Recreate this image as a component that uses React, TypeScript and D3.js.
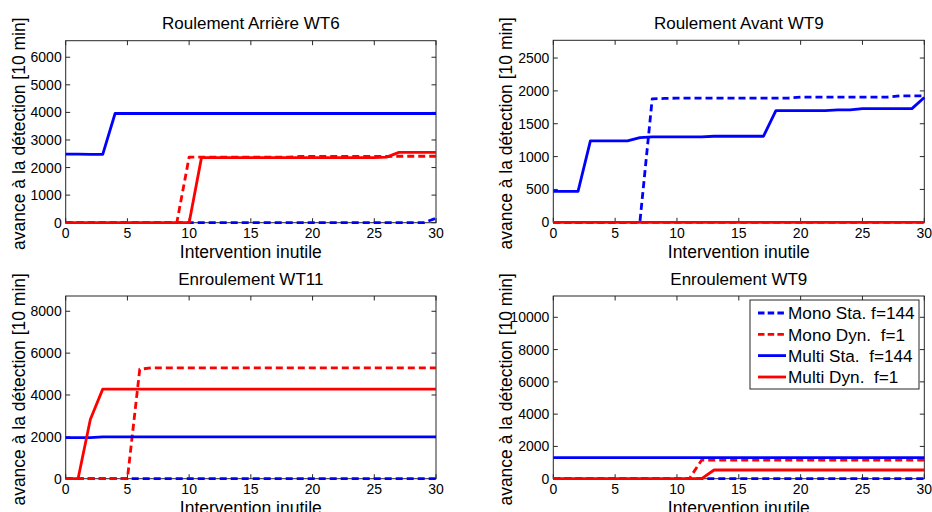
import React from 'react';
import * as d3 from 'd3';

const xValues = [0,1,2,3,4,5,6,7,8,9,10,11,12,13,14,15,16,17,18,19,20,21,22,23,24,25,26,27,28,29,30];

const seriesNames = ['Mono Sta. f=144', 'Mono Dyn.  f=1', 'Multi Sta.  f=144', 'Multi Dyn.  f=1'];
const seriesColors = ['#0000ff', '#ff0000', '#0000ff', '#ff0000'];
const seriesDashed = [true, true, false, false];

const titles = ['Roulement Arrière WT6', 'Roulement Avant WT9', 'Enroulement WT11', 'Enroulement WT9'];
const yMaxes = [6600, 2770, 8730, 11320];
const yTickSets = [
  [0, 1000, 2000, 3000, 4000, 5000, 6000],
  [0, 500, 1000, 1500, 2000, 2500],
  [0, 2000, 4000, 6000, 8000],
  [0, 2000, 4000, 6000, 8000, 10000],
];
const xTicks = [0, 5, 10, 15, 20, 25, 30];
const xLabel = 'Intervention inutile';
const yLabel = 'avance à la détection [10 min]';

// Roulement Arrière WT6
const monoSta1 = [0,0,0,0,0,0,0,0,0,0,0,0,0,0,0,0,0,0,0,0,0,0,0,0,0,0,0,0,0,0,160];
const monoDyn1 = [0,0,0,0,0,0,0,0,0,0,2380,2380,2380,2380,2380,2380,2380,2380,2380,2400,2400,2400,2400,2400,2400,2400,2400,2410,2410,2410,2410];
const multiSta1 = [2490,2490,2480,2480,3960,3960,3960,3960,3960,3960,3960,3960,3960,3960,3960,3960,3960,3960,3960,3960,3960,3960,3960,3960,3960,3960,3960,3960,3960,3960,3960];
const multiDyn1 = [0,0,0,0,0,0,0,0,0,0,0,2360,2360,2360,2360,2360,2360,2360,2360,2360,2360,2360,2360,2360,2360,2360,2380,2550,2550,2550,2550];

// Roulement Avant WT9
const monoSta2 = [0,0,0,0,0,0,0,0,1880,1885,1890,1890,1890,1890,1890,1890,1890,1890,1890,1890,1905,1905,1905,1905,1905,1905,1905,1905,1925,1925,1925];
const monoDyn2 = [0,0,0,0,0,0,0,0,0,0,0,0,0,0,0,0,0,0,0,0,0,0,0,0,0,0,0,0,0,0,0];
const multiSta2 = [470,470,470,1240,1240,1240,1240,1290,1300,1300,1300,1300,1300,1310,1310,1310,1310,1310,1700,1700,1700,1700,1700,1710,1710,1730,1730,1730,1730,1730,1900];
const multiDyn2 = [0,0,0,0,0,0,0,0,0,0,0,0,0,0,0,0,0,0,0,0,0,0,0,0,0,0,0,0,0,0,0];

// Enroulement WT11
const monoSta3 = [0,0,0,0,0,0,0,0,0,0,0,0,0,0,0,0,0,0,0,0,0,0,0,0,0,0,0,0,0,0,0];
const monoDyn3 = [0,0,0,0,0,0,5230,5300,5300,5300,5300,5300,5300,5300,5300,5300,5300,5300,5300,5300,5300,5300,5300,5300,5300,5300,5300,5300,5300,5300,5300];
const multiSta3 = [1960,1960,1960,2000,2000,2000,2000,2000,2000,2000,2000,2000,2000,2000,2000,2000,2000,2000,2000,2000,2000,2000,2000,2000,2000,2000,2000,2000,2000,2000,2000];
const multiDyn3 = [0,0,2840,4280,4280,4280,4280,4280,4280,4280,4280,4280,4280,4280,4280,4280,4280,4280,4280,4280,4280,4280,4280,4280,4280,4280,4280,4280,4280,4280,4280];

// Enroulement WT9
const monoSta4 = [0,0,0,0,0,0,0,0,0,0,0,0,0,0,0,0,0,0,0,0,0,0,0,0,0,0,0,0,0,0,0];
const monoDyn4 = [0,0,0,0,0,0,0,0,0,0,0,0,1160,1160,1160,1160,1160,1160,1160,1160,1160,1160,1160,1160,1160,1160,1160,1160,1160,1160,1160];
const multiSta4 = [1300,1300,1300,1300,1300,1300,1300,1300,1300,1300,1300,1300,1300,1300,1300,1300,1300,1300,1300,1300,1300,1300,1300,1300,1300,1300,1300,1300,1300,1300,1300];
const multiDyn4 = [0,0,0,0,0,0,0,0,0,0,0,0,0,540,540,540,540,540,540,540,540,540,540,540,540,540,540,540,540,540,540];

const panelSeries = [
  [monoSta1, monoDyn1, multiSta1, multiDyn1],
  [monoSta2, monoDyn2, multiSta2, multiDyn2],
  [monoSta3, monoDyn3, multiSta3, multiDyn3],
  [monoSta4, monoDyn4, multiSta4, multiDyn4],
];

const W = 932;
const H = 512;
const FONT = '"Liberation Sans", Arial, Helvetica, sans-serif';
const boxes = [
  { x0: 65.7, x1: 436, y0: 40.7, y1: 222.7 },
  { x0: 553.3, x1: 924.3, y0: 40.3, y1: 222.3 },
  { x0: 65.7, x1: 436, y0: 296, y1: 478.7 },
  { x0: 553.3, x1: 924.3, y0: 296, y1: 478.7 },
];

const TICK_FS = 14;
const LABEL_FS = 17.5;
const TITLE_FS = 17;

function Panel({ idx }: { idx: number }) {
  const b = boxes[idx];
  const x = d3.scaleLinear().domain([0, 30]).range([b.x0, b.x1]);
  const y = d3.scaleLinear().domain([0, yMaxes[idx]]).range([b.y1, b.y0]);
  const line = d3.line<number>().x((_, i) => x(xValues[i])).y((d) => y(d));
  const tl = 4.5;
  const cx = (b.x0 + b.x1) / 2;
  const cy = (b.y0 + b.y1) / 2;
  return (
    <g>
      <rect x={b.x0} y={b.y0} width={b.x1 - b.x0} height={b.y1 - b.y0} fill="#fff" stroke="#262626" strokeWidth={1} />
      {xTicks.map((t) => (
        <g key={'xt' + t}>
          <line x1={x(t)} x2={x(t)} y1={b.y1} y2={b.y1 - tl} stroke="#262626" />
          <line x1={x(t)} x2={x(t)} y1={b.y0} y2={b.y0 + tl} stroke="#262626" />
          <text x={x(t)} y={b.y1 + 15.5} textAnchor="middle" fontSize={TICK_FS} fontFamily={FONT} fill="#000">{t}</text>
        </g>
      ))}
      {yTickSets[idx].map((t) => (
        <g key={'yt' + t}>
          <line x1={b.x0} x2={b.x0 + tl} y1={y(t)} y2={y(t)} stroke="#262626" />
          <line x1={b.x1} x2={b.x1 - tl} y1={y(t)} y2={y(t)} stroke="#262626" />
          <text x={b.x0 - 4} y={y(t) + 5} textAnchor="end" fontSize={TICK_FS} fontFamily={FONT} fill="#000">{t}</text>
        </g>
      ))}
      {panelSeries[idx].map((s, k) => (
        <path key={'s' + k} d={line(s) || ''} fill="none" stroke={seriesColors[k]} strokeWidth={2.8}
          strokeDasharray={seriesDashed[k] ? '7,4' : undefined} strokeLinejoin="round" />
      ))}
      <text x={cx} y={b.y0 - 11.5} textAnchor="middle" fontSize={TITLE_FS} fontFamily={FONT} fill="#000">{titles[idx]}</text>
      <text x={cx} y={b.y1 + 35.5} textAnchor="middle" fontSize={LABEL_FS} fontFamily={FONT} fill="#000">{xLabel}</text>
      <text transform={`translate(${b.x0 - 41},${cy + 2}) rotate(-90)`} textAnchor="middle" fontSize={LABEL_FS} fontFamily={FONT} fill="#000">{yLabel}</text>
    </g>
  );
}

function Legend() {
  const lx0 = 750, lx1 = 919, ly0 = 300, ly1 = 389;
  const rowY = [313, 334.3, 355.6, 377];
  return (
    <g>
      <rect x={lx0} y={ly0} width={lx1 - lx0} height={ly1 - ly0} fill="#fff" stroke="#262626" strokeWidth={1} />
      {seriesNames.map((n, k) => (
        <g key={'lg' + k}>
          <line x1={758} x2={786} y1={rowY[k]} y2={rowY[k]} stroke={seriesColors[k]} strokeWidth={2.8}
            strokeDasharray={seriesDashed[k] ? '6.5,3.2' : undefined} />
          <text x={788} y={rowY[k] + 6.2} fontSize={17.2} fontFamily={FONT} fill="#000" style={{ whiteSpace: 'pre' }}>{n}</text>
        </g>
      ))}
    </g>
  );
}

export default function App() {
  return (
    <div style={{ position: 'absolute', left: 0, top: 0 }}>
      <svg width={W} height={H} style={{ display: 'block', background: '#fff' }}>
        <rect x={0} y={0} width={W} height={H} fill="#fff" />
        {[0, 1, 2, 3].map((i) => <Panel key={i} idx={i} />)}
        <Legend />
      </svg>
    </div>
  );
}
